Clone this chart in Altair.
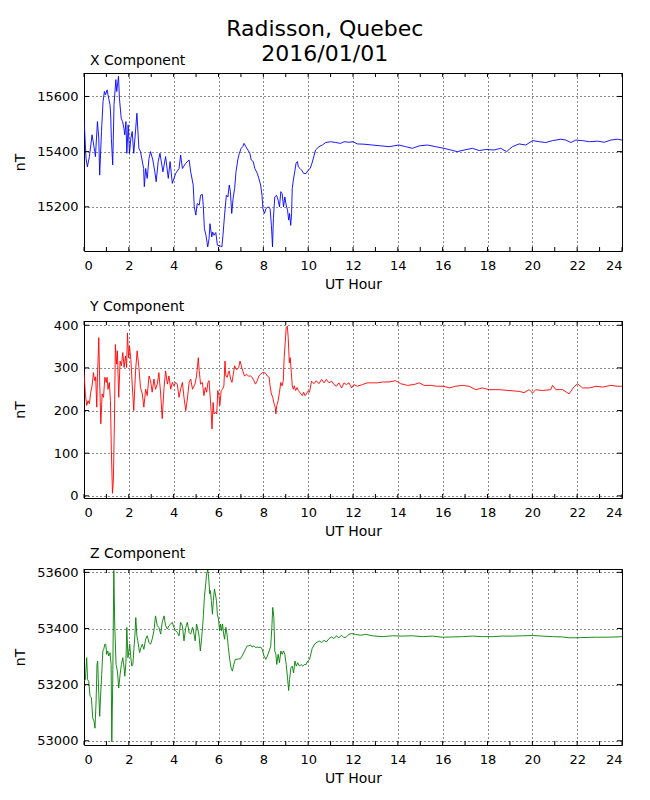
import altair as alt
import pandas as pd

# ---------------- data (UT hour, nT) ----------------
x_hour = [0.00,0.09,0.15,0.24,0.36,0.48,0.51,0.60,0.66,0.70,0.78,0.85,0.91,0.96,1.03,1.10,1.16,1.19,1.22,1.28,1.34,1.42,1.46,1.54,1.58,1.66,1.72,1.78,1.82,1.87,1.91,1.97,2.03,2.09,2.15,2.22,2.36,2.45,2.52,2.66,2.69,2.75,2.82,2.90,2.97,3.07,3.16,3.22,3.31,3.39,3.52,3.64,3.76,3.84,3.94,4.09,4.24,4.31,4.39,4.54,4.69,4.76,
          4.87,4.92,4.99,5.05,5.14,5.20,5.28,5.32,5.37,5.44,5.52,5.58,5.62,5.70,5.74,5.80,5.88,5.95,6.08,6.15,6.20,6.27,6.35,6.42,6.48,6.53,6.59,6.65,6.72,6.78,6.86,6.93,7.01,7.08,7.14,7.22,7.31,7.40,7.46,7.55,7.62,7.73,7.80,7.88,7.94,7.98,8.05,8.12,8.21,8.30,8.36,8.41,8.45,8.51,8.59,8.66,8.72,8.78,8.84,8.90,8.96,9.02,9.08,9.13,9.17,9.22,9.26,9.29,9.34,9.40,9.46,9.52,9.56,9.64,9.71,9.80,9.91,10.00,10.09,10.17,
          10.33,10.48,10.63,10.78,11.00,11.23,11.45,11.60,11.82,12.00,12.19,12.49,12.86,13.24,13.61,14.05,14.35,14.65,14.95,15.32,15.69,16.06,16.36,16.65,16.96,17.33,17.63,17.92,18.29,18.59,18.85,19.11,19.41,19.71,20.01,20.31,20.60,20.90,21.27,21.49,21.72,21.94,22.24,22.54,22.91,23.21,23.50,23.80,24.00]
x_nt = [15521,15376,15345,15382,15461,15400,15382,15509,15448,15315,15473,15582,15618,15606,15624,15594,15570,15533,15448,15352,15570,15661,15618,15673,15594,15521,15509,15485,15461,15509,15394,15497,15394,15448,15473,15394,15539,15412,15400,15339,15273,15339,15303,15376,15400,15370,15327,15291,15364,15394,15327,15382,15303,15364,15285,15321,15339,15388,15339,15358,15370,15327,
        15280,15200,15170,15212,15206,15242,15245,15206,15121,15097,15055,15085,15139,15091,15109,15097,15107,15061,15058,15055,15097,15170,15242,15236,15279,15255,15176,15230,15267,15327,15370,15394,15412,15418,15430,15418,15406,15394,15370,15364,15339,15321,15303,15279,15242,15194,15176,15194,15200,15194,15133,15055,15158,15236,15242,15224,15200,15255,15248,15200,15236,15206,15188,15152,15176,15133,15176,15267,15297,15327,15358,15364,15345,15339,15333,15321,15321,15333,15339,15358,
        15406,15418,15424,15433,15436,15433,15430,15436,15434,15436,15428,15427,15424,15421,15418,15424,15418,15412,15421,15424,15418,15412,15406,15400,15406,15412,15404,15408,15406,15412,15400,15418,15428,15424,15440,15436,15433,15440,15445,15442,15433,15442,15440,15436,15438,15434,15442,15445,15442]

y_hour = [0.00,0.06,0.12,0.18,0.24,0.30,0.36,0.42,0.48,0.52,0.57,0.60,0.66,0.70,0.75,0.81,0.87,0.93,0.99,1.03,1.07,1.13,1.18,1.22,1.27,1.31,1.36,1.40,1.45,1.49,1.55,1.61,1.67,1.73,1.79,1.85,1.90,1.94,1.99,2.03,2.09,2.15,2.22,2.30,2.37,2.45,2.52,2.60,2.67,2.75,2.82,2.90,2.97,3.04,3.12,3.19,3.27,3.34,3.42,3.49,3.57,3.64,3.72,3.79,3.87,3.94,4.01,4.09,4.16,4.24,4.31,4.39,4.46,4.54,4.61,4.69,4.76,4.84,
          4.95,5.02,5.10,5.14,5.20,5.28,5.35,5.41,5.47,5.53,5.58,5.62,5.67,5.71,5.76,5.80,5.86,5.92,5.97,6.02,6.06,6.12,6.18,6.24,6.29,6.33,6.39,6.44,6.48,6.54,6.60,6.66,6.72,6.78,6.84,6.90,6.96,7.02,7.08,7.16,7.25,7.34,7.43,7.50,7.58,7.65,7.73,7.80,7.88,7.95,8.03,8.11,8.18,8.26,8.30,8.36,8.42,8.48,8.53,8.56,8.60,8.66,8.72,8.78,8.84,8.89,8.93,8.98,9.02,9.07,9.11,9.16,9.20,9.25,9.29,9.34,9.38,9.44,9.50,9.56,9.62,9.68,9.74,9.80,9.86,9.92,9.98,10.06,
          10.15,10.26,10.36,10.48,10.60,10.71,10.81,10.93,11.05,11.15,11.26,11.37,11.49,11.60,11.70,11.82,11.94,12.04,12.19,12.42,12.64,12.86,13.09,13.31,13.61,13.90,14.13,14.43,14.72,14.95,15.17,15.47,15.76,16.06,16.29,16.58,16.88,17.18,17.48,17.77,18.07,18.52,18.96,19.41,19.63,19.86,20.01,20.15,20.45,20.82,20.90,21.05,21.35,21.64,21.82,22.01,22.24,22.54,22.84,23.13,23.50,23.80,24.00]
y_nt = [289,239,212,223,216,243,258,289,270,279,208,278,371,266,169,239,231,278,266,278,250,266,223,107,6,37,185,355,309,340,231,316,305,336,301,328,301,382,324,351,320,262,200,293,340,301,254,239,208,250,235,281,270,243,274,250,262,289,239,181,254,293,262,281,250,266,258,266,262,231,250,266,231,200,227,266,274,250,
        262,281,324,293,262,266,235,254,243,266,270,239,200,157,219,192,196,192,247,235,212,247,250,258,316,281,278,289,293,274,266,285,305,297,297,301,316,305,293,281,285,281,281,278,270,262,270,281,285,289,289,287,281,278,258,239,231,216,208,192,212,223,243,266,258,270,324,363,394,398,371,312,324,289,258,250,258,247,254,247,243,239,235,243,235,239,245,243,
        269,263,270,263,273,265,273,265,269,261,257,265,253,265,261,265,253,261,257,261,265,265,265,267,267,270,263,259,261,265,259,259,257,257,253,257,259,257,249,253,249,249,247,245,242,249,241,249,247,249,259,249,249,239,253,263,253,253,257,255,259,257,257]

z_hour = [0.00,0.06,0.12,0.16,0.21,0.27,0.33,0.39,0.45,0.49,0.54,0.58,0.61,0.66,0.70,0.75,0.79,0.84,0.88,0.93,0.97,1.01,1.06,1.10,1.16,1.21,1.24,1.28,1.33,1.37,1.43,1.49,1.55,1.61,1.67,1.73,1.79,1.82,1.87,1.91,1.96,2.00,2.04,2.09,2.13,2.18,2.22,2.27,2.31,2.36,2.40,2.48,2.54,2.60,2.67,2.75,2.82,2.90,2.97,3.04,3.12,3.19,3.27,3.34,3.42,3.49,3.57,3.64,3.72,3.79,3.87,3.94,4.01,4.09,4.16,4.24,4.31,4.39,4.46,4.54,4.61,4.69,4.76,4.84,
          4.87,4.92,4.96,5.02,5.08,5.14,5.19,5.25,5.31,5.37,5.43,5.47,5.52,5.56,5.61,5.64,5.68,5.73,5.77,5.82,5.86,5.91,5.95,6.00,6.05,6.09,6.14,6.18,6.23,6.27,6.33,6.38,6.44,6.50,6.56,6.62,6.68,6.75,6.83,6.90,6.98,7.05,7.13,7.20,7.28,7.35,7.43,7.50,7.58,7.65,7.73,7.80,7.88,7.95,8.03,8.11,8.18,8.26,8.33,8.38,8.42,8.47,8.51,8.56,8.60,8.66,8.72,8.78,8.84,8.90,8.96,9.02,9.08,9.13,9.17,9.23,9.29,9.35,9.41,9.47,9.53,9.61,9.68,9.76,9.83,9.91,9.98,10.06,
          10.18,10.30,10.41,10.51,10.60,10.71,10.81,10.93,11.05,11.15,11.26,11.37,11.49,11.60,11.70,11.82,11.94,12.12,12.34,12.57,12.86,13.31,13.76,14.20,14.65,15.10,15.54,15.99,16.44,16.88,17.33,17.77,18.22,18.67,19.11,19.56,20.01,20.45,20.90,21.35,21.64,21.94,22.39,22.83,23.28,23.73,24.00]
z_nt = [53212,53218,53296,53218,53212,53159,53153,53081,53069,53045,53141,53272,53284,53165,53087,53177,53236,53320,53326,53344,53344,53308,53320,53302,53314,53272,52997,53200,53607,53416,53272,53248,53188,53236,53272,53296,53260,53230,53278,53404,53296,53320,53344,53296,53266,53272,53320,53374,53439,53374,53356,53314,53332,53344,53326,53362,53374,53350,53344,53362,53392,53445,53410,53404,53380,53422,53445,53410,53398,53410,53416,53422,53404,53392,53386,53374,53422,53410,53356,53404,53422,53386,53380,53404,
        53398,53374,53356,53416,53398,53368,53320,53368,53427,53511,53559,53595,53609,53583,53523,53535,53499,53451,53499,53541,53523,53499,53451,53433,53392,53416,53392,53416,53380,53362,53404,53380,53332,53290,53260,53248,53272,53290,53290,53292,53292,53302,53314,53326,53338,53338,53341,53334,53338,53332,53334,53332,53334,53326,53302,53290,53302,53320,53338,53404,53475,53439,53320,53308,53272,53308,53278,53320,53308,53320,53308,53272,53224,53179,53218,53260,53266,53242,53284,53266,53278,53266,53272,53266,53272,53272,53284,53290,
        53329,53346,53352,53355,53350,53358,53352,53364,53370,53364,53374,53367,53376,53367,53370,53379,53382,53379,53376,53379,53374,53371,53374,53373,53374,53371,53373,53369,53370,53371,53373,53371,53371,53373,53373,53374,53375,53373,53371,53370,53367,53367,53368,53369,53369,53370,53371]

hour_ticks = list(range(0, 25, 2))
minor_hours = list(range(0, 25))
x_yticks = [15200, 15400, 15600]
y_yticks = [0, 100, 200, 300, 400]
z_yticks = [53000, 53200, 53400, 53600]

W = 538
FONT = "DejaVu Sans"


def panel(hours, vals, color, title, domain, yticks, H):
    df = pd.DataFrame({"hour": hours, "nT": vals})
    xenc = alt.X("hour:Q", scale=alt.Scale(domain=[0, 24], nice=False, zero=False),
                 axis=alt.Axis(title="UT Hour", values=hour_ticks, format="d"))
    yenc = alt.Y("nT:Q", scale=alt.Scale(domain=domain, nice=False, zero=False),
                 axis=alt.Axis(title="nT", values=yticks, format="d",
                               titleX=-64, titleY=H / 2, titleAngle=-90,
                               titleAlign="center", titleBaseline="middle"))
    line = alt.Chart(df).mark_line(color=color, strokeWidth=0.9, clip=True).encode(x=xenc, y=yenc)

    xt = pd.DataFrame({"hour": minor_hours})
    bot = alt.Chart(xt).mark_rule(color="black", strokeWidth=1).encode(
        x=xenc, y=alt.value(H), y2=alt.value(H - 4))
    top = alt.Chart(xt).mark_rule(color="black", strokeWidth=1).encode(
        x=xenc, y=alt.value(0), y2=alt.value(4))
    yt = pd.DataFrame({"nT": yticks})
    left = alt.Chart(yt).mark_rule(color="black", strokeWidth=1).encode(
        y=yenc, x=alt.value(0), x2=alt.value(5))
    right = alt.Chart(yt).mark_rule(color="black", strokeWidth=1).encode(
        y=yenc, x=alt.value(W), x2=alt.value(W - 5))

    return alt.layer(line, bot, top, left, right).properties(
        width=W, height=H,
        title=alt.TitleParams(title, anchor="start", frame="group", fontSize=14, fontWeight="normal",
                              font=FONT, dx=6, offset=5, color="black"),
    )


chart = alt.vconcat(
    panel(x_hour, x_nt, "#0000ff", "X Component", [15040, 15685], x_yticks, 178),
    panel(y_hour, y_nt, "#ff0000", "Y Component", [-5, 410], y_yticks, 177),
    panel(z_hour, z_nt, "#008000", "Z Component", [52985, 53612], z_yticks, 176),
    spacing=7,
).properties(
    padding={"top": 10, "left": 4, "right": 5, "bottom": 5},
    title=alt.TitleParams(["Radisson, Quebec", "2016/01/01"], anchor="middle", fontSize=22,
                          fontWeight="normal", font=FONT, lineHeight=25, offset=-13, dx=7,
                          color="black"),
).configure_view(
    stroke="black", strokeWidth=1
).configure_axis(
    grid=True, gridColor="black", gridDash=[1, 3], gridOpacity=0.9, gridWidth=1,
    domain=False, ticks=False, tickSize=0,
    labelFont=FONT, labelFontSize=13, labelColor="black", labelPadding=8,
    titleFont=FONT, titleFontSize=14, titleFontWeight="normal", titleColor="black",
).configure_axisX(
    titlePadding=5
).configure_axisY(
    labelPadding=6
)

chart.save("out.html", embed_options={"renderer": "svg", "actions": False})
